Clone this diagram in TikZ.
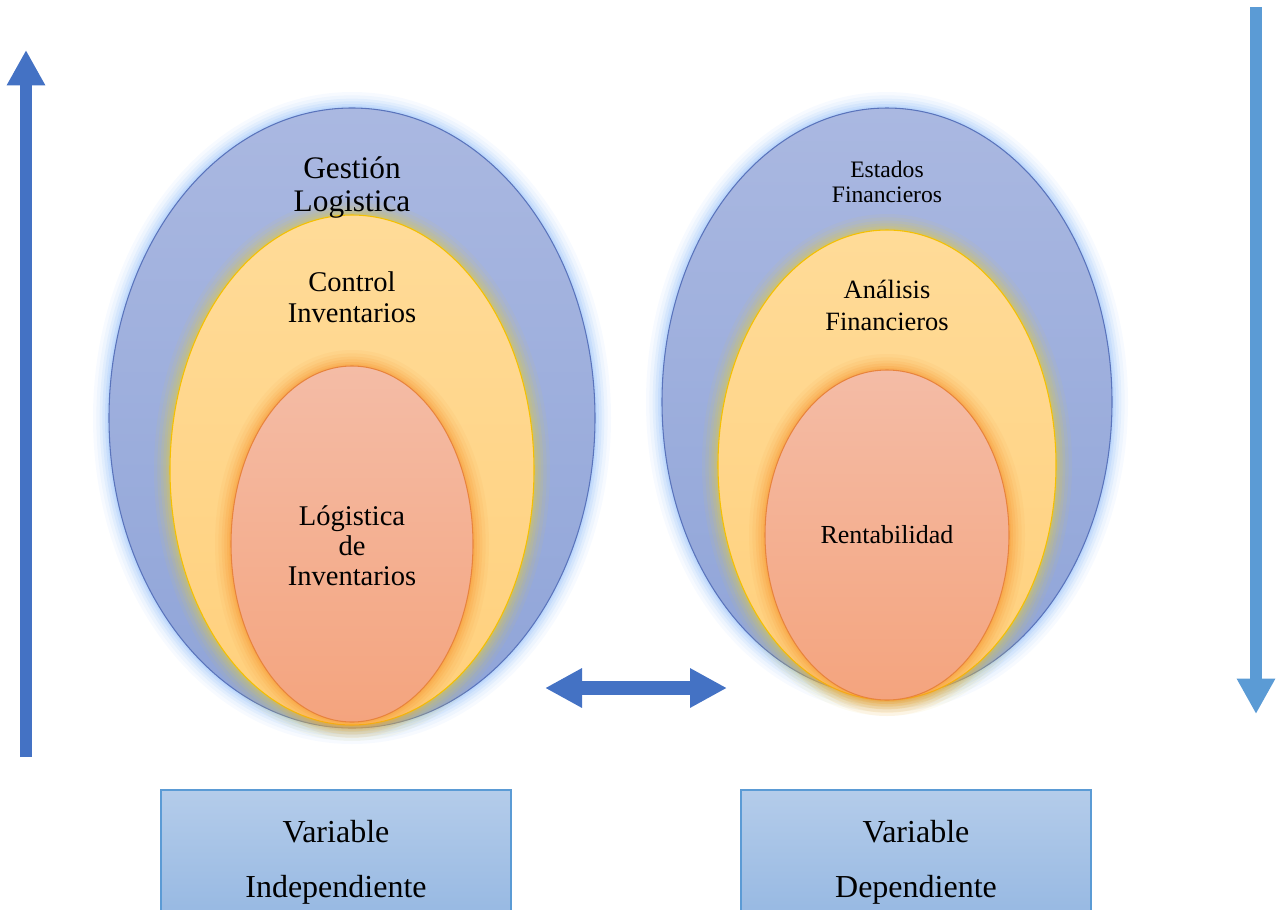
\documentclass[tikz,border=0pt]{standalone}
\usepackage{fontspec}
\setmainfont{Liberation Serif}
\usetikzlibrary{arrows.meta}
\definecolor{arrowA}{HTML}{4472C4}
\definecolor{arrowB}{HTML}{5B9BD5}
\definecolor{blueTop}{HTML}{AAB8E1}
\definecolor{blueBot}{HTML}{8FA4D8}
\definecolor{blueLine}{HTML}{5A74BC}
\definecolor{blueGlow}{HTML}{8DBBF8}
\definecolor{yelTop}{HTML}{FFDB98}
\definecolor{yelBot}{HTML}{FFD07C}
\definecolor{yelLine}{HTML}{F5C000}
\definecolor{yelGlow}{HTML}{E0CC48}
\definecolor{redTop}{HTML}{F4BCA6}
\definecolor{redBot}{HTML}{F4A47E}
\definecolor{redLine}{HTML}{E8843C}
\definecolor{redGlow}{HTML}{F8962E}
\definecolor{boxTop}{HTML}{B4CCEA}
\definecolor{boxBot}{HTML}{96B8E2}
\definecolor{boxLine}{HTML}{5B9BD5}
\newcommand\myglow[4]{%
  \foreach \w/\o in {24/0.07,19/0.09,14/0.12,10/0.15,6/0.18,3/0.2}{%
    \draw[#1, line width=\w pt, opacity=\o] #2 ellipse [x radius=#3, y radius=#4];}}
\begin{document}
\begin{tikzpicture}[x=0.75pt,y=-0.75pt,
  lbl/.style={text=black, align=center, inner sep=0pt},
  vbig/.style={line width=9pt, -{Triangle[length=26.5pt,width=27pt]}},
  dbl/.style={arrowA, line width=10.5pt, {Triangle[length=27.75pt,width=27.75pt]}-{Triangle[length=27.75pt,width=27.75pt]}},
  boxnode/.style={draw=boxLine, line width=0.8pt, top color=boxTop, bottom color=boxBot, minimum width=262.5pt, minimum height=97.5pt, inner sep=0pt},
  outerE/.style={top color=blueTop, bottom color=blueBot},
  yelE/.style={top color=yelTop, bottom color=yelBot},
  redE/.style={top color=redTop, bottom color=redBot}]
\useasboundingbox (0,0) rectangle (1285,910);
\clip (0,0) rectangle (1285,910);
% ---------- left group
\myglow{blueGlow}{(352,418)}{243}{310}
\shade[outerE] (352,418) ellipse [x radius=243, y radius=310];
\draw[blueLine, line width=0.8pt] (352,418) ellipse [x radius=243, y radius=310];
\myglow{yelGlow}{(352,470)}{182}{255}
\shade[yelE] (352,470) ellipse [x radius=182, y radius=255];
\draw[yelLine, line width=0.8pt] (352,470) ellipse [x radius=182, y radius=255];
\myglow{redGlow}{(352,544)}{121}{178}
\shade[redE] (352,544) ellipse [x radius=121, y radius=178];
\draw[redLine, line width=0.8pt] (352,544) ellipse [x radius=121, y radius=178];
% ---------- right group
\myglow{blueGlow}{(887,402)}{225}{294}
\shade[outerE] (887,402) ellipse [x radius=225, y radius=294];
\draw[blueLine, line width=0.8pt] (887,402) ellipse [x radius=225, y radius=294];
\myglow{yelGlow}{(887,465)}{169}{235}
\shade[yelE] (887,465) ellipse [x radius=169, y radius=235];
\draw[yelLine, line width=0.8pt] (887,465) ellipse [x radius=169, y radius=235];
\myglow{redGlow}{(887,535)}{122}{165}
\shade[redE] (887,535) ellipse [x radius=122, y radius=165];
\draw[redLine, line width=0.8pt] (887,535) ellipse [x radius=122, y radius=165];
% ---------- labels
\node[lbl, font=\fontsize{23.5}{24.75}\selectfont] (gl) at (352,187) {Gestión\\Logistica};
\node[lbl, font=\fontsize{21.4}{23.25}\selectfont] (ci) at (352,297) {Control\\Inventarios};
\node[lbl, font=\fontsize{21.4}{22.5}\selectfont] (li) at (352,546) {Lógistica\\de\\Inventarios};
\node[lbl, font=\fontsize{17.7}{18.75}\selectfont] (ef) at (887,182) {Estados\\Financieros};
\node[lbl, font=\fontsize{19.8}{24}\selectfont] (af) at (887,305) {Análisis\\Financieros};
\node[lbl, font=\fontsize{19.5}{24}\selectfont] (re) at (887,535) {Rentabilidad};
% ---------- arrows
\coordinate (la1) at (26,757);
\coordinate (la2) at (26,50);
\draw[vbig, arrowA] (la1) -- (la2);
\coordinate (ra1) at (1256,7);
\coordinate (ra2) at (1256,714);
\draw[vbig, arrowB] (ra1) -- (ra2);
\coordinate (da1) at (545,688);
\coordinate (da2) at (727,688);
\draw[dbl] (da1) -- (da2);
% ---------- boxes
\node[boxnode] (bi) at (336,855) {};
\node[boxnode] (bd) at (916,855) {};
\node[lbl, font=\fontsize{24}{41}\selectfont] (ti) at (336,862) {Variable\\Independiente};
\node[lbl, font=\fontsize{24}{41}\selectfont] (td) at (916,862) {Variable\\Dependiente};
\end{tikzpicture}
\end{document}
